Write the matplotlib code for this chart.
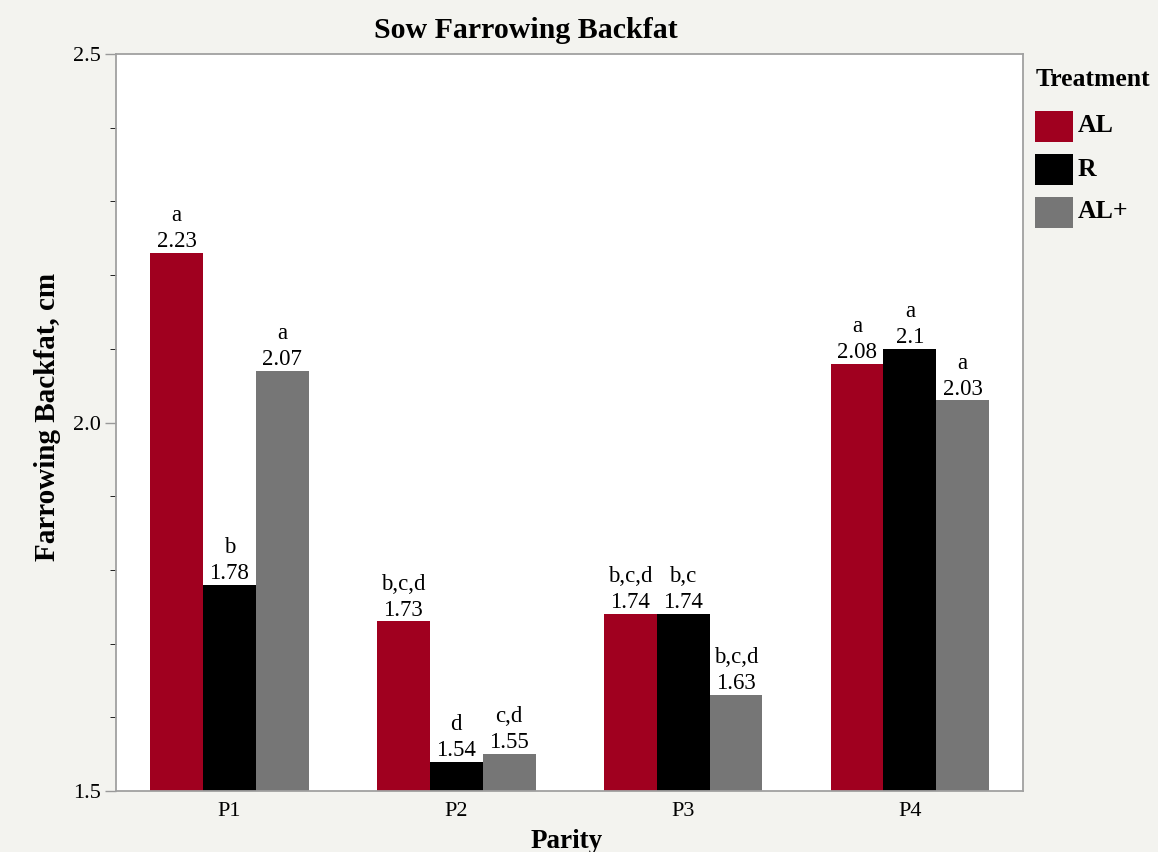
import matplotlib.pyplot as plt
from matplotlib.patches import Rectangle
from matplotlib.ticker import MultipleLocator
import numpy as np

parity = ['P1', 'P2', 'P3', 'P4']
treatments = ['AL', 'R', 'AL+']
colors = ['#a0001f', '#000000', '#767676']

backfat = {
    'AL': [2.23, 1.73, 1.74, 2.08],
    'R': [1.78, 1.54, 1.74, 2.1],
    'AL+': [2.07, 1.55, 1.63, 2.03],
}
letters = {
    'AL': ['a', 'b,c,d', 'b,c,d', 'a'],
    'R': ['b', 'd', 'b,c', 'a'],
    'AL+': ['a', 'c,d', 'b,c,d', 'a'],
}

plt.rcParams['font.family'] = 'Liberation Serif'
bg = '#f3f3ef'
W, H = 1158, 852

fig = plt.figure(figsize=(W / 100, H / 100), dpi=100, facecolor=bg)
ax = fig.add_axes([0.1002, 0.0716, 0.7835, 0.865])
ax.set_facecolor('white')

x = np.arange(len(parity))
w = 0.233
for i, t in enumerate(treatments):
    pos = x + (i - 1) * w
    ax.bar(pos, np.array(backfat[t]) - 1.5, w, bottom=1.5, color=colors[i], zorder=2)
    for xp, v, lab in zip(pos, backfat[t], letters[t]):
        ax.text(xp, v + 0.008, f'{v:g}', ha='center', va='baseline', fontsize=16.5)
        ax.text(xp, v + 0.043, lab, ha='center', va='baseline', fontsize=16.5)

ax.set_xlim(-0.5, 3.5)
ax.set_ylim(1.5, 2.5)
ax.set_xticks(x)
ax.set_xticklabels(parity)
ax.set_yticks([1.5, 2.0, 2.5])
ax.yaxis.set_major_formatter(plt.FormatStrFormatter('%.1f'))
ax.yaxis.set_minor_locator(MultipleLocator(0.1))
ax.tick_params(axis='both', labelsize=16, color='#999999', width=1)
ax.tick_params(axis='y', which='major', length=8, pad=3)
ax.tick_params(axis='y', which='minor', length=4)
ax.tick_params(axis='x', length=0, pad=8)
for s in ax.spines.values():
    s.set_color('#a0a0a0')
    s.set_linewidth(1.3)

# titles placed in figure pixels
def px(xp, yp):
    return xp / W, 1 - yp / H

fig.text(*px(526, 31), 'Sow Farrowing Backfat', fontsize=21.5, fontweight='bold',
         ha='center', va='center')
fig.text(*px(567, 841), 'Parity', fontsize=19.5, fontweight='bold',
         ha='center', va='center')
fig.text(*px(48, 417), 'Farrowing Backfat, cm', fontsize=21, fontweight='bold',
         ha='center', va='center', rotation=90)

# legend
fig.text(*px(1036, 80), 'Treatment', fontsize=18.5, fontweight='bold',
         ha='left', va='center')
box_tops = [111, 154, 197]
for c, t, top in zip(colors, treatments, box_tops):
    fig.add_artist(Rectangle(px(1035, top + 31), 38 / W, 31 / H,
                             transform=fig.transFigure, facecolor=c,
                             edgecolor='none'))
    fig.text(*px(1078, top + 15), t, fontsize=18.5, fontweight='bold',
             ha='left', va='center')

fig.savefig('out.png', dpi=100, facecolor=bg)
